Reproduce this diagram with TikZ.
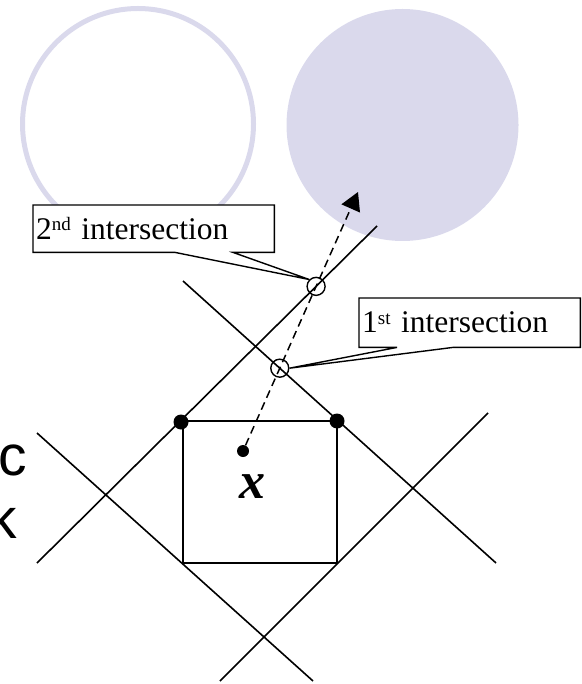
\documentclass[tikz,border=0pt]{standalone}
\usepackage{fontspec}
\setmainfont{Liberation Serif}
\newfontfamily\slidefont{Liberation Sans}
\usetikzlibrary{arrows.meta,intersections}
\definecolor{lavender}{RGB}{218,217,236}
\newcommand{\ordsup}[1]{\raisebox{8.5pt}{\fontsize{19}{19}\selectfont #1}}

\begin{document}
\begin{tikzpicture}[
  x=1pt,y=-1pt,
  wire/.style={line width=1.6pt},
  ray/.style={line width=1.5pt,dash pattern=on 8pt off 5pt,-{Triangle[length=18pt,width=20pt]}},
  corner/.style={circle,fill,inner sep=0,minimum size=15pt},
  hole/.style={circle,draw,line width=1.4pt,inner sep=0,minimum size=18pt},
  tag/.style={fill=white,inner xsep=3pt,inner ysep=0,minimum height=47pt,align=left,anchor=north west,font=\fontsize{31.5}{36}\selectfont},
  tagline/.style={line width=1.4pt,line join=miter},
  word/.style={anchor=base west,inner sep=0,font=\slidefont\fontsize{57}{57}\selectfont}
]
\useasboundingbox (0,0) rectangle (581,684);
\clip (0,0) rectangle (581,684);
\draw[lavender,line width=5pt] (138,124) circle[radius=115.5];
\fill[lavender] (402.5,125) circle[radius=116];
\node[word] (wordc) at (-2,475) {c};
\node[word] (wordk) at (-12,538) {k};
\draw[wire,name path=edgeB] (37,563) -- (377,226);
\draw[wire,name path=edgeA] (183,281) -- (496,563);
\draw[wire] (37,433) -- (313,681);
\draw[wire] (220,681) -- (488,413);
\draw[wire] (183,421) rectangle (337,563);
\node[corner] (cornerL) at (181,422) {};
\node[corner] (cornerR) at (337,421) {};
\node[corner,minimum size=12pt] (origin) at (243,451) {};
\coordinate (aim) at (358,192);
\draw[ray,name path=probe] (origin) -- (aim);
\path[name intersections={of=probe and edgeA,by=hitA}];
\path[name intersections={of=probe and edgeB,by=hitB}];
\node[hole] (ring1) at (hitA) {};
\node[hole] (ring2) at (hitB) {};
\node[inner sep=0,font=\fontsize{52}{52}\selectfont\bfseries\itshape] (xlabel) at (252,487) {x};
\node[tag,text width=235pt] (tag2) at (33,205) {2\ordsup{nd} intersection};
\draw[tagline] ([xshift=142pt]tag2.south west) -- (tag2.south west) -- (tag2.north west) -- (tag2.north east) -- (tag2.south east) -- ([xshift=200pt]tag2.south west) -- (ring2.north west) -- cycle;
\node[tag,text width=215pt,minimum height=49pt] (tag1) at (359,298) {1\ordsup{st} intersection};
\draw[tagline] ([xshift=38pt]tag1.south west) -- (tag1.south west) -- (tag1.north west) -- (tag1.north east) -- (tag1.south east) -- ([xshift=94pt]tag1.south west) -- (ring1.east) -- cycle;
\end{tikzpicture}
\end{document}
